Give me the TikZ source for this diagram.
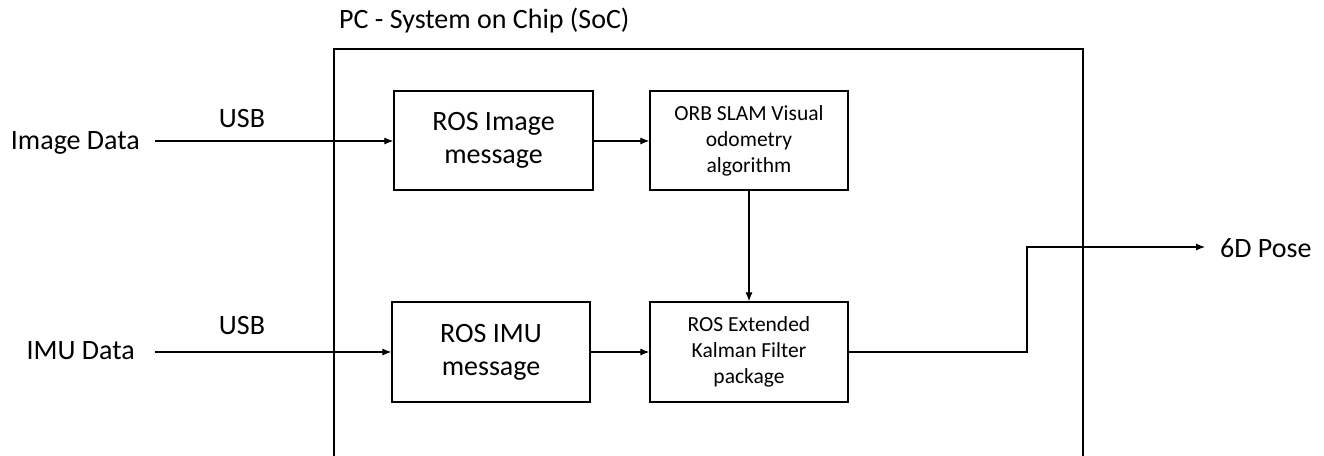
\documentclass[tikz,border=0pt]{standalone}
\usepackage{fontspec}
\setmainfont{Carlito}
\usetikzlibrary{arrows.meta}
\tikzset{
  block/.style={draw=black, line width=1.2pt, fill=white, align=center,
    inner sep=0pt, font=\fontsize{28}{33}\selectfont},
  smallblock/.style={block, font=\fontsize{21.5}{26}\selectfont},
  label/.style={inner sep=0pt, font=\fontsize{28}{33}\selectfont},
  flow/.style={line width=1.1pt, -{Latex[length=9pt,width=7pt]}},
  frame/.style={line width=1.3pt}
}
\begin{document}
\begin{tikzpicture}[x=1pt,y=-1pt]
  \useasboundingbox (0,0) rectangle (1324,455);

  % system-on-chip frame (open at the bottom)
  \draw[frame] (334,460) -- (334,49) -- (1083,49) -- (1083,460);
  \node[label, anchor=west] (title) at (339,21) {PC - System on Chip (SoC)};

  % processing blocks
  \node[block, minimum width=199pt, minimum height=99pt] (rosimg) at (493.5,140.5) {ROS Image\\message};
  \node[smallblock, minimum width=198pt, minimum height=99pt] (orb) at (749,140.5) {ORB SLAM Visual\\odometry\\algorithm};
  \node[block, minimum width=198pt, minimum height=100pt] (rosimu) at (491,352) {ROS IMU\\message};
  \node[smallblock, minimum width=198pt, minimum height=100pt] (ekf) at (749,352) {ROS Extended\\Kalman Filter\\package};

  % external inputs and output
  \node[label, anchor=east] (imgdata) at (140,143) {Image Data};
  \node[label, anchor=east] (imudata) at (135,351) {IMU Data};
  \node[label] (usb1) at (242,119) {USB};
  \node[label] (usb2) at (242,326) {USB};
  \node[label, anchor=west] (pose) at (1220,248) {6D Pose};

  \coordinate (imgin) at (155,141);
  \coordinate (imuin) at (155,352);
  \coordinate (bend1) at (1027,352);
  \coordinate (bend2) at (1027,247);

  % connectors
  \draw[flow] (imgin) -- (rosimg.west |- imgin);
  \draw[flow] (imuin) -- (rosimu.west |- imuin);
  \draw[flow] (rosimg.east |- imgin) -- (orb.west |- imgin);
  \draw[flow] (rosimu.east |- imuin) -- (ekf.west |- imuin);
  \draw[flow] (orb.south) -- (ekf.north);
  \draw[flow] (ekf.east |- bend1) -- (bend1) -- (bend2) -- ([xshift=-15pt]pose.west |- bend2);
\end{tikzpicture}
\end{document}
